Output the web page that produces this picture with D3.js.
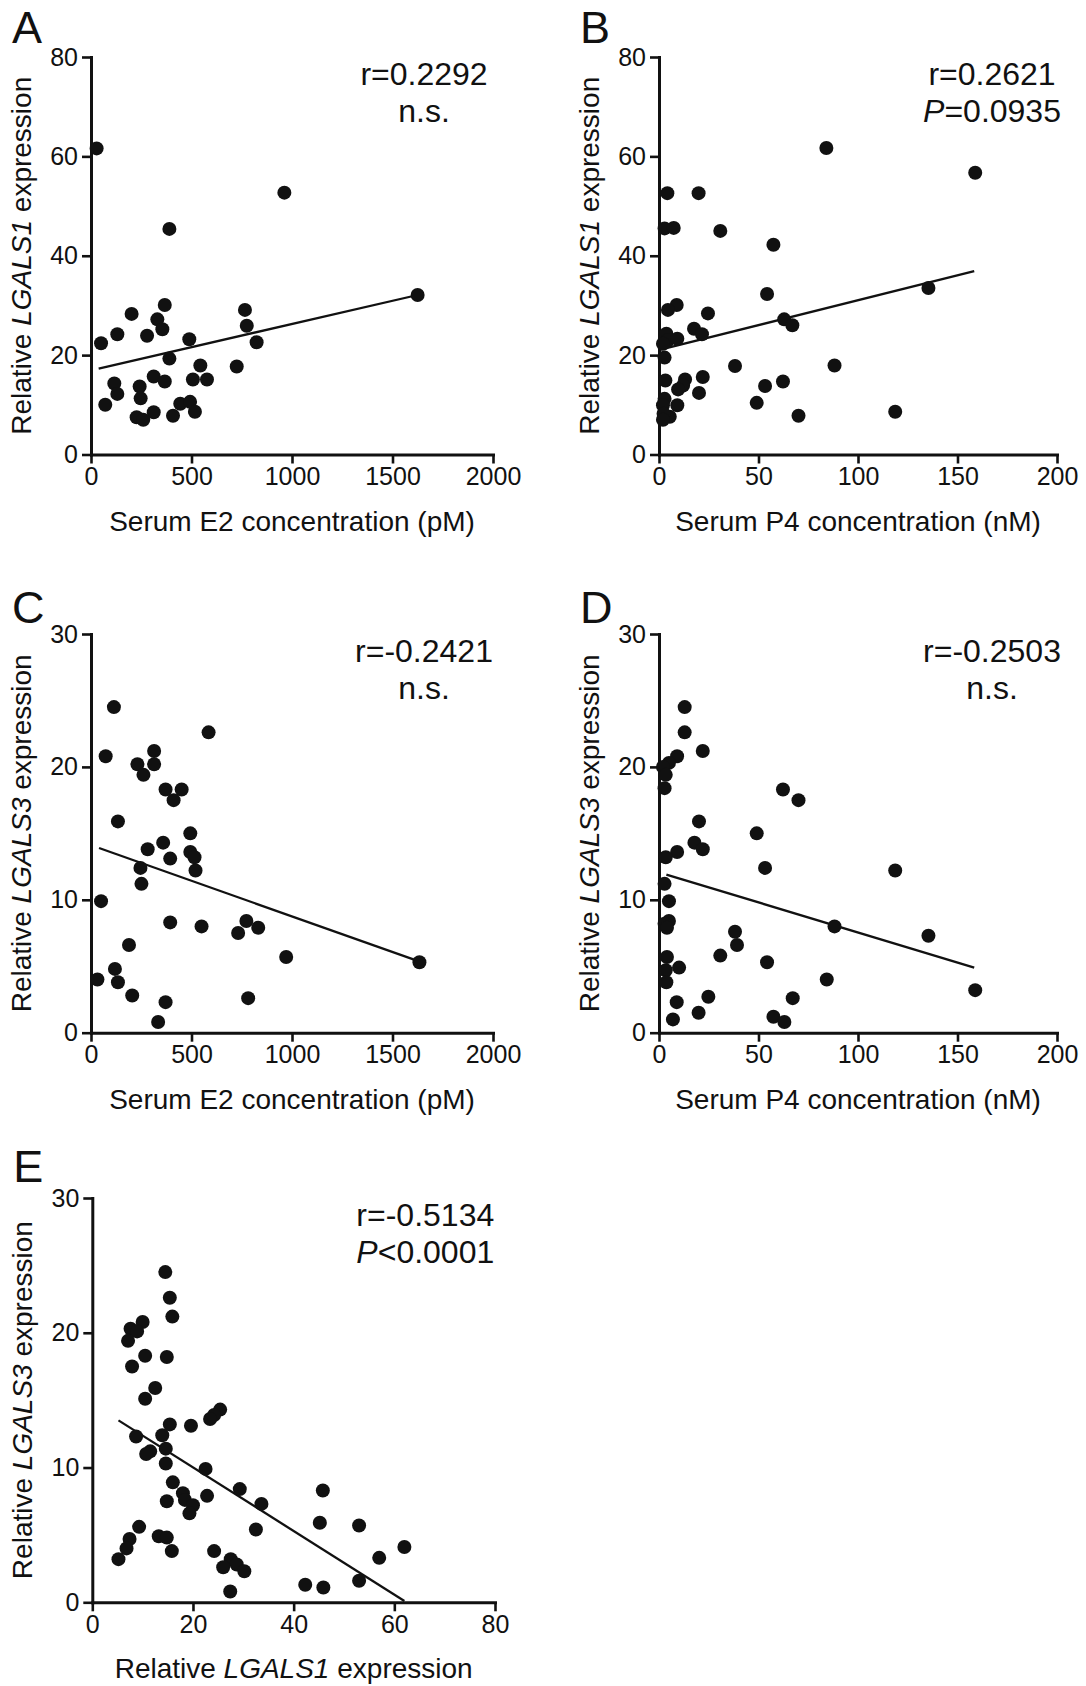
<!DOCTYPE html>
<html><head><meta charset="utf-8">
<script src="https://cdn.jsdelivr.net/npm/d3@7"></script>
<style>
body{margin:0;background:#fff}
svg{display:block}
text{font-family:"Liberation Sans",Arial,Helvetica,sans-serif;fill:#111}
</style>
</head><body>
<svg id="c" width="1086" height="1686"></svg>
<script>
// ---------- data ----------
const e2TicksPM = [0, 500, 1000, 1500, 2000];
const p4TicksNM = [0, 50, 100, 150, 200];
const lgals1Ticks = [0, 20, 40, 60, 80];
const lgals3Ticks = [0, 10, 20, 30];
const lgals1TicksX = [0, 20, 40, 60, 80];

// Panel A: E2 (pM) vs LGALS1
const panelA_e2 = [28,962,390,1625,50,131,202,330,355,367,279,489,390,766,775,824,725,544,507,577,312,367,116,131,242,247,71,444,493,517,312,408,227,260];
const panelA_lgals1 = [61.6,52.7,45.4,32.1,22.4,24.2,28.3,27.2,25.2,30.1,23.9,23.2,19.3,29.1,25.9,22.6,17.7,17.9,15.1,15.1,15.7,14.7,14.3,12.2,13.7,11.3,10.0,10.2,10.6,8.6,8.5,7.8,7.5,7.0];
const fitA_x = [38, 1625];
const fitA_y = [17.3, 32.1];
const statsA = ["r=0.2292", "n.s."];

// Panel B: P4 (nM) vs LGALS1
const panelB_p4 = [84.1,158.9,4.2,19.9,2.8,7.4,30.8,57.5,135.4,54.3,8.9,4.5,24.6,17.6,21.6,62.9,67.0,3.7,4.5,9.2,2.0,2.8,38.2,88.2,22.0,3.2,13.1,12.1,9.6,53.3,62.3,20.1,2.8,2.0,9.2,49.1,118.7,70.1,5.4,2.3,2.0];
const panelB_lgals1 = [61.7,56.7,52.6,52.6,45.5,45.6,45.0,42.2,33.5,32.3,30.1,29.1,28.4,25.3,24.2,27.2,26.0,24.3,23.0,23.3,22.3,19.5,17.8,17.9,15.6,14.9,15.1,13.9,13.1,13.8,14.7,12.4,11.2,9.9,9.9,10.4,8.6,7.8,7.6,8.2,7.0];
const fitB_x = [0.7, 158.4];
const fitB_y = [21.1, 36.9];
const statsB = ["r=0.2621", "P=0.0935"];

// Panel C: E2 (pM) vs LGALS3
const panelC_e2 = [114,585,73,314,231,314,261,371,451,411,134,494,359,282,494,515,394,520,246,251,50,394,550,773,732,832,971,1634,189,119,134,32,205,371,782,334];
const panelC_lgals3 = [24.5,22.6,20.8,21.2,20.2,20.2,19.4,18.3,18.3,17.5,15.9,15.0,14.3,13.8,13.6,13.2,13.1,12.2,12.4,11.2,9.9,8.3,8.0,8.4,7.5,7.9,5.7,5.3,6.6,4.8,3.8,4.0,2.8,2.3,2.6,0.8];
const fitC_x = [40, 1625];
const fitC_y = [13.9, 5.4];
const statsC = ["r=-0.2421", "n.s."];

// Panel D: P4 (nM) vs LGALS3
const panelD_p4 = [12.9,12.9,22.0,9.1,5.0,2.0,3.4,2.8,62.3,70.1,20.1,49.1,17.8,22.0,9.1,3.4,53.3,118.7,2.8,5.0,5.0,2.8,4.0,88.2,135.4,38.2,39.2,30.8,54.3,4.0,10.1,3.4,3.7,84.3,158.9,24.8,8.9,67.2,19.9,57.5,7.0,63.0];
const panelD_lgals3 = [24.5,22.6,21.2,20.8,20.3,20.0,19.4,18.4,18.3,17.5,15.9,15.0,14.3,13.8,13.6,13.2,12.4,12.2,11.2,9.9,8.4,8.2,7.9,8.0,7.3,7.6,6.6,5.8,5.3,5.7,4.9,4.7,3.8,4.0,3.2,2.7,2.3,2.6,1.5,1.2,1.0,0.8];
const fitD_x = [3.7, 158.4];
const fitD_y = [11.9, 4.9];
const statsD = ["r=-0.2503", "n.s."];

// Panel E: LGALS1 vs LGALS3
const panelE_lgals1 = [14.5,15.4,15.9,10.0,7.6,8.9,7.1,10.5,14.8,7.9,12.5,10.5,25.4,24.2,23.4,15.4,19.6,13.9,8.7,14.6,11.5,10.7,14.6,22.5,16.0,29.3,45.8,18.0,22.8,18.4,14.8,20.0,33.6,19.3,45.2,53.0,9.3,32.5,13.2,14.8,7.4,6.8,62.0,15.8,24.2,5.2,57.0,27.5,26.0,28.7,30.2,53.0,42.3,45.9,27.4];
const panelE_lgals3 = [24.5,22.6,21.2,20.8,20.3,20.1,19.4,18.3,18.2,17.5,15.9,15.1,14.3,13.9,13.6,13.2,13.1,12.4,12.3,11.4,11.2,11.0,10.3,9.9,8.9,8.4,8.3,8.1,7.9,7.6,7.5,7.2,7.3,6.6,5.9,5.7,5.6,5.4,4.9,4.8,4.7,4.0,4.1,3.8,3.8,3.2,3.3,3.2,2.6,2.8,2.3,1.6,1.3,1.1,0.8];
const fitE_x = [5.2, 62.0];
const fitE_y = [13.5, 0.1];
const statsE = ["r=-0.5134", "P<0.0001"];

const titleE2 = [["Serum E2 concentration (pM)", false]];
const titleP4 = [["Serum P4 concentration (nM)", false]];
const titleL1 = [["Relative ", false], ["LGALS1", true], [" expression", false]];
const titleL3 = [["Relative ", false], ["LGALS3", true], [" expression", false]];

// ---------- drawing ----------
const svg = d3.select("#c");
svg.append("rect").attr("width", 1086).attr("height", 1686).attr("fill", "#fff");

function richText(sel, parts) {
  parts.forEach(([t, it]) => {
    sel.append("tspan").attr("font-style", it ? "italic" : "normal").text(t);
  });
}
function statLine(sel, s) {
  if (s[0] === "P") {
    sel.append("tspan").attr("font-style", "italic").text("P");
    sel.append("tspan").text(s.slice(1));
  } else sel.text(s);
}

function panel(cfg) {
  const g = svg.append("g");
  const x = d3.scaleLinear().domain(cfg.xDomain).range([cfg.left, cfg.left + cfg.w]);
  const y = d3.scaleLinear().domain(cfg.yDomain).range([cfg.top + cfg.h, cfg.top]);

  const xa = g.append("g").attr("transform", `translate(0,${cfg.top + cfg.h})`)
    .call(d3.axisBottom(x).tickValues(cfg.xTicks).tickSize(9).tickSizeOuter(0).tickPadding(4).tickFormat(d3.format("d")));
  const ya = g.append("g").attr("transform", `translate(${cfg.left},0)`)
    .call(d3.axisLeft(y).tickValues(cfg.yTicks).tickSize(9).tickSizeOuter(0).tickPadding(4).tickFormat(d3.format("d")));
  [xa, ya].forEach(a => {
    a.select(".domain").attr("stroke", "#111").attr("stroke-width", 3).attr("stroke-linecap", "square");
    a.selectAll(".tick line").attr("stroke", "#111").attr("stroke-width", 2.6);
    a.selectAll(".tick text").attr("font-size", 25).attr("fill", "#222")
      .attr("font-family", '"Liberation Sans",Arial,sans-serif');
  });

  // axis titles
  const xt = g.append("text").attr("x", cfg.left + cfg.w / 2).attr("y", cfg.top + cfg.h + 76)
    .attr("text-anchor", "middle").attr("font-size", 28);
  richText(xt, cfg.xTitle);
  const yt = g.append("text")
    .attr("transform", `translate(${cfg.left - 60},${cfg.top + cfg.h / 2}) rotate(-90)`)
    .attr("text-anchor", "middle").attr("font-size", 28);
  richText(yt, cfg.yTitle);

  // panel letter
  g.append("text").attr("x", cfg.left - 79).attr("y", cfg.letterY)
    .attr("font-size", 45).text(cfg.letter);

  // regression line
  g.append("line")
    .attr("x1", x(cfg.fitX[0])).attr("y1", y(cfg.fitY[0]))
    .attr("x2", x(cfg.fitX[1])).attr("y2", y(cfg.fitY[1]))
    .attr("stroke", "#111").attr("stroke-width", 2.3);

  // points
  g.append("g").selectAll("circle").data(d3.zip(cfg.xs, cfg.ys)).join("circle")
    .attr("cx", d => x(d[0])).attr("cy", d => y(d[1])).attr("r", 7).attr("fill", "#111");

  // stats
  cfg.stats.forEach((s, i) => {
    const t = g.append("text").attr("x", cfg.left + 333).attr("y", cfg.top + 28 + i * 37)
      .attr("text-anchor", "middle").attr("font-size", 32);
    statLine(t, s);
  });
}

panel({letter: "A", letterY: 43, left: 91, top: 57, w: 402, h: 397.5,
  xDomain: [0, 2000], yDomain: [0, 80], xTicks: e2TicksPM, yTicks: lgals1Ticks,
  xs: panelA_e2, ys: panelA_lgals1, fitX: fitA_x, fitY: fitA_y, stats: statsA,
  xTitle: titleE2, yTitle: titleL1});
panel({letter: "B", letterY: 43, left: 659, top: 57, w: 398, h: 397.5,
  xDomain: [0, 200], yDomain: [0, 80], xTicks: p4TicksNM, yTicks: lgals1Ticks,
  xs: panelB_p4, ys: panelB_lgals1, fitX: fitB_x, fitY: fitB_y, stats: statsB,
  xTitle: titleP4, yTitle: titleL1});
panel({letter: "C", letterY: 623, left: 91, top: 634, w: 402, h: 398.7,
  xDomain: [0, 2000], yDomain: [0, 30], xTicks: e2TicksPM, yTicks: lgals3Ticks,
  xs: panelC_e2, ys: panelC_lgals3, fitX: fitC_x, fitY: fitC_y, stats: statsC,
  xTitle: titleE2, yTitle: titleL3});
panel({letter: "D", letterY: 623, left: 659, top: 634, w: 398, h: 398.7,
  xDomain: [0, 200], yDomain: [0, 30], xTicks: p4TicksNM, yTicks: lgals3Ticks,
  xs: panelD_p4, ys: panelD_lgals3, fitX: fitD_x, fitY: fitD_y, stats: statsD,
  xTitle: titleP4, yTitle: titleL3});
panel({letter: "E", letterY: 1182, left: 92.3, top: 1198, w: 402.7, h: 404.3,
  xDomain: [0, 80], yDomain: [0, 30], xTicks: lgals1TicksX, yTicks: lgals3Ticks,
  xs: panelE_lgals1, ys: panelE_lgals3, fitX: fitE_x, fitY: fitE_y, stats: statsE,
  xTitle: titleL1, yTitle: titleL3});
</script>
</body></html>
